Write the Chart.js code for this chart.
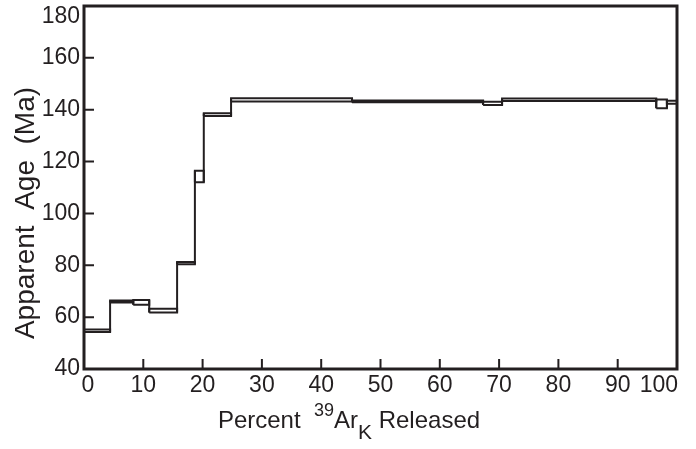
<!DOCTYPE html>
<html>
<head>
<meta charset="utf-8">
<script src="https://cdn.jsdelivr.net/npm/chart.js@4.4.1/dist/chart.umd.min.js"></script>
<style>
  html, body { margin: 0; padding: 0; background: #fff; }
</style>
</head>
<body>
<canvas id="espectro" width="696" height="449"></canvas>
<script>
// Espectro de edades Ar/Ar: cada escalón es una caja (edad mínima / máxima)
// entre dos porcentajes acumulados de 39ArK liberado.

var stepEdges = [0, 4.4, 8.3, 11.0, 15.7, 18.7, 20.2, 24.8, 45.2, 67.3, 70.5, 96.5, 98.3, 100];
var ageLow  = [54.3, 65.6, 64.8, 61.8, 80.4, 112.0, 137.6, 143.2, 142.9, 141.8, 143.4, 140.6, 142.3];
var ageHigh = [55.2, 66.4, 66.6, 63.2, 81.3, 116.5, 138.6, 144.4, 143.6, 143.1, 144.3, 143.9, 143.5];
var xTicks = [0, 10, 20, 30, 40, 50, 60, 70, 80, 90, 100];
var yTicks = [40, 60, 80, 100, 120, 140, 160, 180];

var tinta = '#231f20';
var fuente = 'Liberation Sans, Arial, Helvetica, sans-serif';

function lineaDataset(puntos, ancho) {
    return {
        data: puntos,
        showLine: true,
        borderColor: tinta,
        borderWidth: ancho,
        pointRadius: 0,
        fill: false,
        tension: 0
    };
}

// cajas de cada escalón
var datasets = [];
for (var i = 0; i < ageLow.length; i++) {
    var x0 = stepEdges[i], x1 = stepEdges[i + 1];
    datasets.push(lineaDataset([
        {x: x0, y: ageLow[i]}, {x: x1, y: ageLow[i]},
        {x: x1, y: ageHigh[i]}, {x: x0, y: ageHigh[i]},
        {x: x0, y: ageLow[i]}
    ], 2));
}
// uniones verticales entre escalones vecinos
for (var j = 1; j < ageLow.length; j++) {
    var xb = stepEdges[j];
    datasets.push(lineaDataset([
        {x: xb, y: Math.min(ageLow[j - 1], ageLow[j])},
        {x: xb, y: Math.max(ageHigh[j - 1], ageHigh[j])}
    ], 2));
}

// las etiquetas de los extremos se meten dentro del marco, como en el original
var ajusteEtiquetas = {
    id: 'ajusteEtiquetas',
    beforeDraw: function(chart) {
        var a = chart.chartArea;
        chart.scales.y.getLabelItems().forEach(function(it) {
            if (it.label === '180') it.options.translation[1] += 11;
        });
        chart.scales.x.getLabelItems().forEach(function(it) {
            if (it.label === '0') it.options.translation[0] += 4;
            if (it.label === '100') {
                it.options.translation[0] = a.right + 1;
                it.options.textAlign = 'right';
            }
        });
    }
};

// marco completo y marcas de escala hacia dentro
var marco = {
    id: 'marco',
    afterDatasetsDraw: function(chart) {
        var ctx = chart.ctx, a = chart.chartArea;
        var sx = chart.scales.x, sy = chart.scales.y;
        ctx.save();
        ctx.strokeStyle = tinta;
        ctx.lineWidth = 2;
        ctx.beginPath();
        xTicks.forEach(function(v) {
            var px = sx.getPixelForValue(v);
            ctx.moveTo(px, a.bottom);
            ctx.lineTo(px, a.bottom - 10);
        });
        yTicks.forEach(function(v) {
            var py = sy.getPixelForValue(v);
            ctx.moveTo(a.left, py);
            ctx.lineTo(a.left + 10, py);
        });
        ctx.stroke();
        ctx.lineWidth = 3;
        ctx.strokeRect(a.left, a.top, a.right - a.left, a.bottom - a.top);
        ctx.restore();
    }
};

// títulos de los ejes (el de x lleva superíndice y subíndice)
var titulos = {
    id: 'titulos',
    afterDraw: function(chart) {
        var ctx = chart.ctx;
        var partes = [
            {t: 'Percent  ', size: 24, dy: 0},
            {t: '39', size: 18, dy: -12},
            {t: 'Ar', size: 24, dy: 0},
            {t: 'K', size: 21, dy: 11},
            {t: ' Released', size: 24, dy: 0}
        ];
        ctx.save();
        ctx.fillStyle = tinta;
        ctx.textBaseline = 'alphabetic';
        ctx.textAlign = 'left';
        var total = 0;
        partes.forEach(function(p) {
            ctx.font = p.size + 'px ' + fuente;
            p.w = ctx.measureText(p.t).width;
            total += p.w;
        });
        var x = 349 - total / 2, base = 428;
        partes.forEach(function(p) {
            ctx.font = p.size + 'px ' + fuente;
            ctx.fillText(p.t, x, base + p.dy);
            x += p.w;
        });

        ctx.translate(26, 213);
        ctx.rotate(-Math.PI / 2);
        ctx.font = '28px ' + fuente;
        ctx.textAlign = 'center';
        ctx.textBaseline = 'middle';
        ctx.fillText('Apparent  Age  (Ma)', 0, 0);
        ctx.restore();
    }
};

var ctx = document.getElementById('espectro').getContext('2d');
var graf = new Chart(ctx, {
    type: 'scatter',
    data: { datasets: datasets },
    options: {
        responsive: false,
        devicePixelRatio: 1,
        animation: false,
        layout: { padding: { top: 6, right: 19, bottom: 0, left: 0 } },
        plugins: {
            legend: { display: false },
            tooltip: { enabled: false }
        },
        scales: {
            x: {
                type: 'linear',
                min: 0,
                max: 100,
                afterBuildTicks: function(s) {
                    s.ticks = xTicks.map(function(v) { return {value: v}; });
                },
                grid: { display: false, drawTicks: false },
                border: { display: false },
                ticks: {
                    color: tinta,
                    padding: 3,
                    maxRotation: 0,
                    autoSkip: false,
                    font: { family: fuente, size: 23 }
                },
                afterFit: function(s) {
                    s.height = 80;
                    s.paddingLeft = 0;
                    s.paddingRight = 0;
                }
            },
            y: {
                type: 'linear',
                min: 40,
                max: 180,
                afterBuildTicks: function(s) {
                    s.ticks = yTicks.map(function(v) { return {value: v}; });
                },
                grid: { display: false, drawTicks: false },
                border: { display: false },
                ticks: {
                    color: tinta,
                    padding: 4,
                    font: { family: fuente, size: 23 }
                },
                afterFit: function(s) {
                    s.width = 84;
                    s.paddingTop = 0;
                    s.paddingBottom = 0;
                }
            }
        }
    },
    plugins: [ajusteEtiquetas, marco, titulos]
});
</script>
</body>
</html>
